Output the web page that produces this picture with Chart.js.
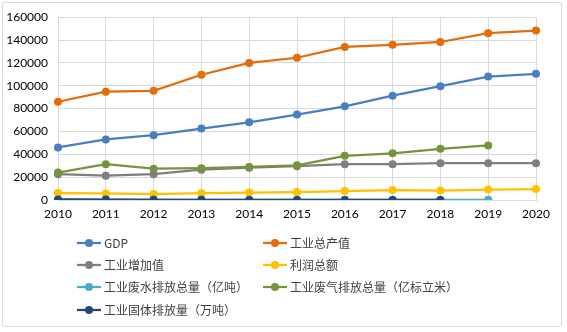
<!DOCTYPE html>
<html>
<head>
<meta charset="utf-8">
<script src="https://cdn.jsdelivr.net/npm/chart.js@4"></script>
<style>
html,body{margin:0;padding:0;background:#fff;}
#wrap{position:relative;width:567px;height:332px;}
#frame{position:absolute;left:2px;top:2px;width:560px;height:325px;border:1px solid #D9D9D9;border-radius:3px;box-sizing:border-box;}
canvas{position:absolute;left:0;top:0;}
#legend{position:absolute;left:0;top:0;width:567px;height:332px;font-family:"Noto Sans CJK SC","Lato",sans-serif;font-size:12px;color:#404040;}
.item{position:absolute;height:16px;line-height:16px;white-space:nowrap;}
.item canvas{position:absolute;left:0;top:0;}
.item span{position:absolute;left:27px;top:0;}
</style>
</head>
<body>
<div id="wrap">
<div id="frame"></div>
<canvas id="c" width="567" height="332"></canvas>
<div id="legend"></div>
</div>
<script>
const years = ['2010','2011','2012','2013','2014','2015','2016','2017','2018','2019','2020'];
const gdp = [46000, 53000, 56700, 62500, 68000, 74800, 82000, 91300, 99600, 108000, 110500];
const industryOutput = [86000, 94800, 95600, 109600, 120000, 124500, 134000, 135800, 138300, 146000, 148300];
const valueAdded = [22600, 21300, 22600, 26500, 28300, 29600, 31300, 31300, 32200, 32200, 32200];
const profit = [6100, 5700, 5200, 6000, 6500, 7000, 7800, 8700, 8300, 9100, 9600];
const wastewater = [237, 231, 222, 210, 205, 200, 186, 182, 180, 178, null];
const wasteGas = [24000, 31300, 27400, 27800, 28900, 30400, 38700, 40900, 44800, 47800, null];
const solidWaste = [498, 433, 144, 129, 59, 56, 50, 45, 40, null, null];
const yTicks = [0, 20000, 40000, 60000, 80000, 100000, 120000, 140000, 160000];

const names = ['GDP','工业总产值','工业增加值','利润总额','工业废水排放总量（亿吨）','工业废气排放总量（亿标立米）','工业固体排放量（万吨）'];
const colors = ['#4A7EC3','#E46C0A','#7F7F7F','#FFC000','#4BACC6','#77933C','#254878'];
const series = [gdp, industryOutput, valueAdded, profit, wastewater, wasteGas, solidWaste];

const datasets = series.map((d,i)=>({
  label: names[i],
  data: d,
  borderColor: colors[i],
  backgroundColor: colors[i],
  pointBackgroundColor: colors[i],
  pointBorderColor: colors[i],
  pointRadius: 4,
  pointBorderWidth: 0,
  borderWidth: 2.25,
  tension: 0,
  spanGaps: false,
  order: series.length - i
}));

const tickFont = {family: 'Lato, "Liberation Sans", sans-serif', size: 12};

const chart = new Chart(document.getElementById('c'), {
  type: 'line',
  data: {labels: years, datasets},
  options: {
    responsive: false,
    animation: false,
    devicePixelRatio: 1,
    layout: {padding: {left: 0, right: 31, top: 16, bottom: 112}},
    plugins: {legend: {display: false}, tooltip: {enabled: false}},
    scales: {
      x: {
        offset: false,
        grid: {color: '#D9D9D9', drawTicks: false, lineWidth: 1},
        border: {color: '#D9D9D9'},
        ticks: {color: '#000', font: tickFont, padding: 7, maxRotation: 0, autoSkip: false},
        afterFit: s => { s.height = 20; }
      },
      y: {
        min: 0, max: 160000,
        afterBuildTicks: s => { s.ticks = yTicks.map(v=>({value:v})); },
        grid: {color: '#D9D9D9', drawTicks: false, lineWidth: 1},
        border: {display: false},
        ticks: {color: '#000', font: tickFont, padding: 10, callback: v => String(v)},
        afterFit: s => { s.width = 58; }
      }
    }
  }
});

// HTML legend built from chart datasets
const legend = document.getElementById('legend');
const pos = [[77,235],[263,235],[77,257],[263,257],[77,279],[263,279],[77,302]];
chart.data.datasets.forEach((ds,i)=>{
  const it = document.createElement('div');
  it.className = 'item';
  it.style.left = pos[i][0] + 'px';
  it.style.top = pos[i][1] + 'px';
  const cv = document.createElement('canvas');
  cv.width = 26; cv.height = 16;
  const g = cv.getContext('2d');
  g.strokeStyle = ds.borderColor; g.lineWidth = 2.25;
  g.beginPath(); g.moveTo(0,8); g.lineTo(24,8); g.stroke();
  g.fillStyle = ds.backgroundColor;
  g.beginPath(); g.arc(12,8,4,0,Math.PI*2); g.fill();
  it.appendChild(cv);
  const sp = document.createElement('span');
  sp.textContent = ds.label;
  it.appendChild(sp);
  legend.appendChild(it);
});
</script>
</body>
</html>
